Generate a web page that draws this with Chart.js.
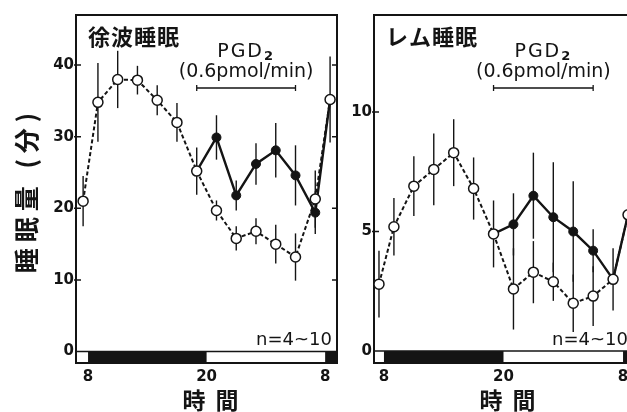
<!DOCTYPE html>
<html>
<head>
<meta charset="utf-8">
<script src="https://cdn.jsdelivr.net/npm/chart.js@4.4.1/dist/chart.umd.min.js"></script>
<style>
body { margin: 0; width: 627px; height: 412px; overflow: hidden; background: #fff; position: relative; }
#sws { position: absolute; left: 0; top: 0; }
#rem { position: absolute; left: 345px; top: 0; }
</style>
</head>
<body>
<canvas id="sws" width="345" height="412"></canvas>
<canvas id="rem" width="296" height="412"></canvas>
<script>
// time of day in hours (8 = 8:00, 32 = 8:00 next day)
const hours = [7.5, 9, 11, 13, 15, 17, 19, 21, 23, 25, 27, 29, 31, 32.5];
const xTickValues = [8, 20, 32];
const xTickLabels = ['8', '20', '8'];
const darkPeriods = [[8, 20], [32, 34]];
const pgdPeriod = [19, 29];

// slow wave sleep (min)
const swsControl = [21, 34.8, 38, 37.9, 35.1, 32, 25.2, 19.7, 15.8, 16.8, 15, 13.2, 21.3, 35.2];
const swsControlErr = [3.5, 5.5, 4, 2, 2.1, 2.7, 3.3, 1.4, 1.7, 1.8, 2.7, 3.3, 4, 6];
const swsPgd = [null, null, null, null, null, null, 25.2, 29.9, 21.8, 26.2, 28.1, 24.6, 19.4, 35.2];
const swsPgdErr = [null, null, null, null, null, null, 0, 3.1, 2.1, 2.9, 3.8, 4.2, 3, 0];
const swsTicks = [0, 10, 20, 30, 40];

// REM sleep (min)
const remControl = [2.8, 5.2, 6.9, 7.6, 8.3, 6.8, 4.9, 2.6, 3.3, 2.9, 2.0, 2.3, 3.0, 5.7];
const remControlErr = [1.4, 1.2, 1.25, 1.5, 1.4, 1.3, 1.4, 1.7, 1.3, 0.8, 1.2, 1.25, 1.3, 1.0];
const remPgd = [null, null, null, null, null, null, 4.9, 5.3, 6.5, 5.6, 5.0, 4.2, 3.0, 5.7];
const remPgdErr = [null, null, null, null, null, null, 0, 1.3, 1.8, 2.3, 2.1, 0.9, 0, 0];
const remTicks = [0, 5, 10];

const INK = '#141414';
const jpFont = '"Noto Sans CJK JP"';

function points(vals) {
    return hours.map((h, i) => ({ x: h, y: vals[i] }));
}

// frame, light/dark bar, inward ticks, error bars
const panelPlugin = {
    id: 'panel',
    beforeDatasetsDraw(chart) {
        const { ctx, chartArea: a, scales: { x, y } } = chart;
        const o = chart.options.plugins.panel;
        ctx.save();
        ctx.strokeStyle = INK;
        ctx.fillStyle = INK;

        const y0 = y.getPixelForValue(0);
        darkPeriods.forEach(([s, e]) => {
            const x1 = Math.max(x.getPixelForValue(s), a.left);
            const x2 = Math.min(x.getPixelForValue(e), a.right);
            if (x2 > x1) ctx.fillRect(x1, y0, x2 - x1, a.bottom - y0);
        });
        ctx.lineWidth = 1.5;
        ctx.beginPath();
        ctx.moveTo(a.left, y0);
        ctx.lineTo(a.right, y0);
        ctx.stroke();

        ctx.lineWidth = 2;
        ctx.strokeRect(a.left, a.top, a.right - a.left, a.bottom - a.top);

        // ticks pointing into the plot
        ctx.lineWidth = 1.5;
        o.yTicks.forEach(v => {
            if (v === 0) return;
            const py = y.getPixelForValue(v);
            ctx.beginPath();
            ctx.moveTo(a.left - 2, py); ctx.lineTo(a.left + 5, py);
            ctx.moveTo(a.right - 5, py); ctx.lineTo(a.right, py);
            ctx.stroke();
        });

        // error bars
        ctx.lineWidth = 1.4;
        chart.data.datasets.forEach((ds, i) => {
            const meta = chart.getDatasetMeta(i);
            meta.data.forEach((pt, j) => {
                const v = ds.data[j].y;
                const e = ds.errors[j];
                if (v == null || !e) return;
                ctx.beginPath();
                ctx.moveTo(pt.x, y.getPixelForValue(v - e));
                ctx.lineTo(pt.x, y.getPixelForValue(v + e));
                ctx.stroke();
            });
        });

        // PGD2 infusion period
        const bx1 = x.getPixelForValue(pgdPeriod[0]);
        const bx2 = x.getPixelForValue(pgdPeriod[1]);
        const by = a.top + 73;
        ctx.lineWidth = 1.3;
        ctx.beginPath();
        ctx.moveTo(bx1, by); ctx.lineTo(bx2, by);
        ctx.moveTo(bx1, by - 3); ctx.lineTo(bx1, by + 3);
        ctx.moveTo(bx2, by - 3); ctx.lineTo(bx2, by + 3);
        ctx.stroke();
        ctx.restore();
    },
    afterDraw(chart) {
        const { ctx, chartArea: a, scales: { x, y } } = chart;
        const o = chart.options.plugins.panel;
        ctx.save();
        ctx.fillStyle = INK;
        ctx.textBaseline = 'middle';

        // panel title
        ctx.font = `bold 22px ${jpFont}`;
        ctx.letterSpacing = '1px';
        ctx.textAlign = 'left';
        ctx.fillText(o.title, a.left + 12, a.top + 22);

        // PGD2 label
        const cx = (x.getPixelForValue(pgdPeriod[0]) + x.getPixelForValue(pgdPeriod[1])) / 2;
        ctx.letterSpacing = '2px';
        ctx.font = '19px "DejaVu Sans"';
        const w1 = ctx.measureText('PGD').width;
        ctx.font = 'bold 13px "DejaVu Sans"';
        const w2 = ctx.measureText('2').width;
        const sx = cx - (w1 + w2) / 2;
        ctx.font = '19px "DejaVu Sans"';
        ctx.fillText('PGD', sx, a.top + 37);
        ctx.font = 'bold 13px "DejaVu Sans"';
        ctx.fillText('2', sx + w1, a.top + 42);
        ctx.letterSpacing = '0px';
        ctx.font = '19px "DejaVu Sans"';
        ctx.textAlign = 'center';
        ctx.fillText('(0.6pmol/min)', cx, a.top + 57);

        // number of animals
        ctx.textAlign = 'right';
        ctx.font = '18px "DejaVu Sans"';
        ctx.fillText('n=4~10', a.right - 5, y.getPixelForValue(0) - 11);

        // axis titles
        ctx.textAlign = 'center';
        ctx.font = `bold 23px ${jpFont}`;
        ctx.letterSpacing = '10px';
        ctx.fillText('時間', (a.left + a.right) / 2 + 9, 400);
        if (o.yTitle) {
            ctx.translate(26, (a.top + a.bottom) / 2 + 4);
            ctx.rotate(-Math.PI / 2);
            ctx.font = `bold 25px ${jpFont}`;
            ctx.letterSpacing = '6px';
            ctx.fillText(o.yTitle, 3, 0);
        }
        ctx.restore();
    }
};

function makeChart(id, cfg) {
    return new Chart(document.getElementById(id), {
        type: 'line',
        data: {
            datasets: [{
                data: points(cfg.control),
                errors: cfg.controlErr,
                borderColor: INK,
                borderWidth: 2,
                borderDash: [4, 2.5],
                pointRadius: 5,
                pointBorderWidth: 1.5,
                pointBackgroundColor: '#fff',
                pointBorderColor: INK,
                tension: 0
            }, {
                data: points(cfg.pgd),
                errors: cfg.pgdErr,
                borderColor: INK,
                borderWidth: 2.4,
                pointRadius: 4.5,
                pointBorderWidth: 1,
                pointBackgroundColor: INK,
                pointBorderColor: INK,
                tension: 0
            }]
        },
        options: {
            responsive: false,
            animation: false,
            layout: { padding: { top: 15, right: 8, left: 0, bottom: 0 } },
            plugins: {
                legend: { display: false },
                tooltip: { enabled: false },
                panel: { title: cfg.title, yTitle: cfg.yTitle, yTicks: cfg.yTicks }
            },
            scales: {
                x: {
                    type: 'linear',
                    min: cfg.xMin,
                    max: cfg.xMax,
                    grid: { display: false, drawTicks: false },
                    border: { display: false },
                    afterBuildTicks: s => { s.ticks = xTickValues.map(v => ({ value: v })); },
                    afterFit: s => { s.height = 49; },
                    ticks: {
                        autoSkip: false,
                        maxRotation: 0,
                        padding: 5,
                        color: INK,
                        font: { family: 'DejaVu Sans', size: 15, weight: 'bold' },
                        callback: (v, i) => xTickLabels[i]
                    }
                },
                y: {
                    min: cfg.yMin,
                    max: cfg.yMax,
                    grid: { display: false, drawTicks: false },
                    border: { display: false },
                    afterBuildTicks: s => { s.ticks = cfg.yTicks.map(v => ({ value: v })); },
                    afterFit: s => { s.width = cfg.yWidth; },
                    ticks: {
                        padding: 2,
                        color: INK,
                        font: { family: 'DejaVu Sans', size: 15, weight: 'bold' }
                    }
                }
            }
        },
        plugins: [panelPlugin]
    });
}

makeChart('sws', {
    title: '徐波睡眠', yTitle: '睡眠量 (分)',
    control: swsControl, controlErr: swsControlErr,
    pgd: swsPgd, pgdErr: swsPgdErr,
    yTicks: swsTicks, yMin: -1.6, yMax: 47,
    xMin: 6.78, xMax: 33.2, yWidth: 76
});

makeChart('rem', {
    title: 'レム睡眠', yTitle: null,
    control: remControl, controlErr: remControlErr,
    pgd: remPgd, pgdErr: remPgdErr,
    yTicks: remTicks, yMin: -0.5, yMax: 14.06,
    xMin: 7.0, xMax: 33.0, yWidth: 29
});
</script>
</body>
</html>
